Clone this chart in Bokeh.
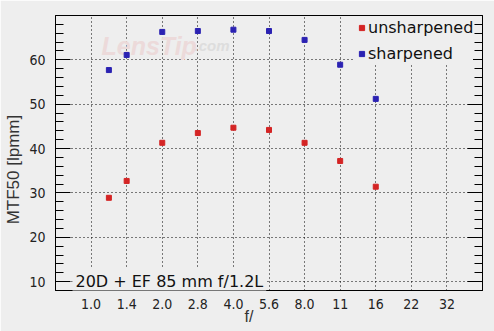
from bokeh.plotting import figure
from bokeh.models import (FixedTicker, LinearAxis, Label, Legend, LegendItem,
                          Range1d, ColumnDataSource)
from bokeh.embed import file_html
from bokeh.resources import INLINE

# ---- data ----
fstop_labels = ["1.0", "1.4", "2.0", "2.8", "4.0", "5.6", "8.0", "11", "16", "22", "32"]
fstop_pos = list(range(len(fstop_labels)))
meas_pos = [0.5, 1, 2, 3, 4, 5, 6, 7, 8]          # f/1.2, 1.4, 2.0 ... 16
unsharpened = [28.9, 32.7, 41.3, 43.5, 44.7, 44.2, 41.3, 37.2, 31.4]
sharpened = [57.7, 61.1, 66.3, 66.5, 66.8, 66.5, 64.5, 58.9, 51.2]
y_major = [10, 20, 30, 40, 50, 60]
y_minor = list(range(8, 71, 2))

BG = "#eeeeee"
RED = "#d42424"
BLUE = "#2b22b2"
TICK_FONT = "'Liberation Sans Narrow', 'DejaVu Sans Condensed', sans-serif"
NB = "\u00a0"

p = figure(width=494, height=331, x_range=Range1d(-1, 11), y_range=Range1d(8, 70),
           output_backend="svg", toolbar_location=None,
           min_border_left=55, min_border_right=12, min_border_top=15, min_border_bottom=41,
           background_fill_color=BG, border_fill_color=BG)
p.outline_line_color = "black"
p.outline_line_width = 1

# bottom axis
xa = p.xaxis[0]
xa.ticker = FixedTicker(ticks=fstop_pos, minor_ticks=[])
xa.major_label_overrides = {i: l for i, l in zip(fstop_pos, fstop_labels)}
xa.major_tick_in = 0
xa.major_tick_out = 0
xa.minor_tick_in = 0
xa.minor_tick_out = 0
xa.major_label_standoff = 8
xa.major_label_text_font = TICK_FONT
xa.major_label_text_font_size = "14px"
xa.major_label_text_color = "#222222"
xa.axis_line_color = "black"
xa.axis_label = "f/" + NB * 9
xa.axis_label_text_font = "Liberation Sans"
xa.axis_label_text_font_style = "normal"
xa.axis_label_text_font_size = "16px"
xa.axis_label_text_color = "#333333"
xa.axis_label_standoff = -4

# left axis
ya = p.yaxis[0]
ya.ticker = FixedTicker(ticks=y_major, minor_ticks=y_minor)
ya.major_tick_in = 15
ya.major_tick_out = 0
ya.minor_tick_in = 8
ya.minor_tick_out = 0
ya.major_tick_line_color = "black"
ya.minor_tick_line_color = "black"
ya.major_label_standoff = 10
ya.major_label_text_font = TICK_FONT
ya.major_label_text_font_size = "14px"
ya.major_label_text_color = "#222222"
ya.axis_label = "MTF50 [lpmm]" + NB * 7
ya.axis_label_text_font = "Liberation Sans"
ya.axis_label_text_font_style = "normal"
ya.axis_label_text_font_size = "17px"
ya.axis_label_text_color = "#333333"
ya.axis_label_standoff = 3

# right axis (ticks only)
ra = LinearAxis(ticker=FixedTicker(ticks=y_major, minor_ticks=y_minor),
                major_tick_in=15, major_tick_out=0, minor_tick_in=8, minor_tick_out=0,
                major_label_standoff=0,
                major_label_overrides={v: "" for v in y_major})
p.add_layout(ra, "right")

# grids
p.xgrid.ticker = FixedTicker(ticks=fstop_pos)
p.ygrid.ticker = FixedTicker(ticks=y_major)
for g in (p.xgrid[0], p.ygrid[0]):
    g.grid_line_color = "black"
    g.grid_line_dash = "1 3"
    g.grid_line_width = 1

# watermark
p.add_layout(Label(x=46, y=245, x_units="screen", y_units="screen", text="LensTip",
                   text_font="Liberation Sans", text_font_style="bold italic",
                   text_baseline="alphabetic",
                   text_font_size="25px", text_color="#ecdada", level="underlay"))
p.add_layout(Label(x=139, y=245, x_units="screen", y_units="screen", text=".com",
                   text_font="Liberation Sans", text_font_style="bold italic",
                   text_baseline="alphabetic",
                   text_font_size="15px", text_color="#dddddd", level="underlay"))

# data
src = ColumnDataSource(dict(x=meas_pos, u=unsharpened, s=sharpened))
r1 = p.scatter("x", "u", source=src, marker="square", size=5, color=RED)
r2 = p.scatter("x", "s", source=src, marker="square", size=5, color=BLUE)

legend = Legend(items=[LegendItem(label="unsharpened", renderers=[r1]),
                       LegendItem(label="sharpened", renderers=[r2])],
                location=(300, 227), background_fill_color=BG, background_fill_alpha=1,
                border_line_color=None, label_text_font="DejaVu Sans",
                label_text_font_size="16px", label_text_color="#111111",
                glyph_width=13, glyph_height=13, label_standoff=0,
                label_height=20, spacing=6, padding=2, margin=0)
p.add_layout(legend)

# title inside the chart
p.add_layout(Label(x=17, y=9.5, x_units="screen", y_units="screen",
                   text="20D + EF 85 mm f/1.2L", text_font="DejaVu Sans",
                   text_font_size="16px", text_color="#111111", text_baseline="alphabetic",
                   background_fill_color=BG, background_fill_alpha=1, padding=3))

open("out.html", "w").write(file_html(p, INLINE))
